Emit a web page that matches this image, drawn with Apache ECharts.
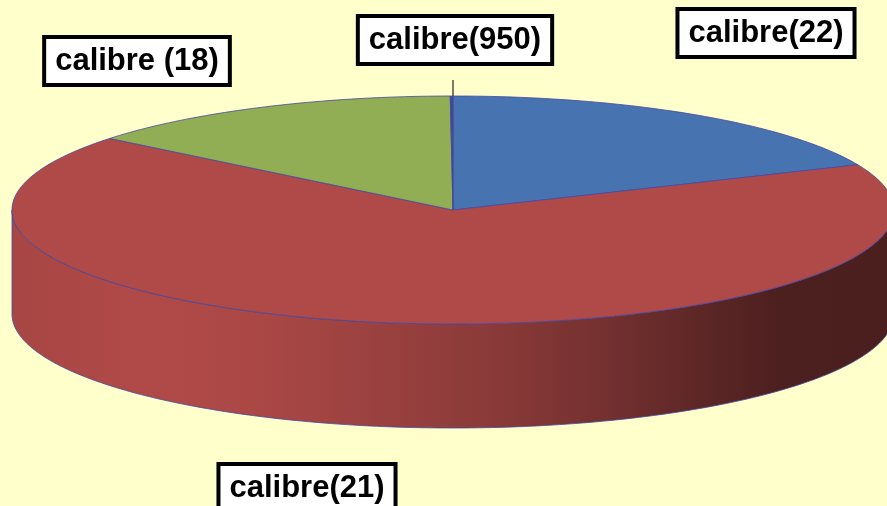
<!DOCTYPE html>
<html><head><meta charset="utf-8">
<script src="https://cdn.jsdelivr.net/npm/echarts@6/dist/echarts.min.js"></script>
<style>html,body{margin:0;padding:0;background:#ffffcc}#c{width:887px;height:506px}</style>
</head><body><div id="c"></div>
<script>
// ---- data ----
const categories = ['calibre(22)', 'calibre(21)', 'calibre (18)', 'calibre(950)'];
const values = [18.5, 67.3, 14.1, 0.1];
// ---- style / layout ----
const colors = ['#4774b0', '#b04a48', '#92ae55', '#3a4a98'];
const labelPos = [[766, 33], [307, 488], [137, 61], [455, 40]];
const CX = 453, CY = 210, RX = 441, RY = 114, DEPTH = 104;
const EDGE = '#4646a0';

const total = values.reduce((a, b) => a + b, 0);
const startAng = [], endAng = [];
let cum = 0;
values.forEach(v => { startAng.push(90 - cum / total * 360); cum += v; endAng.push(90 - cum / total * 360); });

function arcPts(a0, a1, dy) {
  const n = Math.max(2, Math.ceil(Math.abs(a0 - a1)));
  const pts = [];
  for (let k = 0; k <= n; k++) {
    const a = (a0 + (a1 - a0) * k / n) * Math.PI / 180;
    pts.push([CX + RX * Math.cos(a), CY - RY * Math.sin(a) + dy]);
  }
  return pts;
}
function shade(hex, f) {
  const n = parseInt(hex.slice(1), 16);
  const r = Math.round(((n >> 16) & 255) * f), g = Math.round(((n >> 8) & 255) * f), b = Math.round((n & 255) * f);
  return 'rgb(' + r + ',' + g + ',' + b + ')';
}
const shadeStops = [[0, 0.95], [0.15, 1.0], [0.27, 0.97], [0.44, 0.86], [0.55, 0.78], [0.67, 0.66], [0.78, 0.53], [0.87, 0.43], [1, 0.42]];
function sideGrad(col) {
  return { type: 'linear', x: CX - RX, y: 0, x2: CX + RX, y2: 0, global: true,
    colorStops: shadeStops.map(s => ({ offset: s[0], color: shade(col, s[1]) })) };
}

const data = values.map((v, i) => ({ name: categories[i], value: [i, v] }));

const option = {
  backgroundColor: '#ffffcc',
  animation: false,
  series: [
    { type: 'custom', coordinateSystem: 'none', z: 1, data: data,
      renderItem: function (params, api) {
        const i = params.dataIndex;
        const a0 = startAng[i], a1 = endAng[i];
        const children = [];
        for (let k = -1; k <= 1; k++) {
          const lo = Math.max(a1, -180 + 360 * k), hi = Math.min(a0, 360 * k);
          if (hi > lo) {
            const pts = arcPts(hi, lo, 0).concat(arcPts(lo, hi, DEPTH));
            children.push({ type: 'polygon', shape: { points: pts },
              style: { fill: sideGrad(colors[i]), stroke: EDGE, lineWidth: 0.8 } });
          }
        }
        return { type: 'group', children: children };
      } },
    { type: 'custom', coordinateSystem: 'none', z: 2, data: data,
      renderItem: function (params, api) {
        const i = params.dataIndex;
        const pts = [[CX, CY]].concat(arcPts(startAng[i], endAng[i], 0));
        return { type: 'polygon', shape: { points: pts },
          style: { fill: colors[i], stroke: EDGE, lineWidth: 0.8 } };
      } },
    { type: 'custom', coordinateSystem: 'none', z: 3, data: data,
      renderItem: function (params, api) {
        const i = params.dataIndex;
        const children = [];
        const p = labelPos[i];
        if (values[i] / total < 0.01) {
          const ex = CX, ey = CY - RY;
          children.push({ type: 'line', shape: { x1: ex, y1: p[1] + 40, x2: ex, y2: ey },
            style: { stroke: '#222', lineWidth: 1.2 } });
        }
        children.push({ type: 'text', x: p[0], y: p[1],
          style: { text: categories[i], fontSize: 31, fontWeight: 'bold', fontFamily: '"Liberation Sans", Arial, sans-serif',
            fill: '#000', align: 'center', verticalAlign: 'middle', backgroundColor: '#fff',
            borderColor: '#000', borderWidth: 4, padding: [7, 9, 6, 9] } });
        return { type: 'group', children: children };
      } }
  ]
};
const chart = echarts.init(document.getElementById('c'), null, { renderer: 'canvas' });
chart.setOption(option);
</script></body></html>
